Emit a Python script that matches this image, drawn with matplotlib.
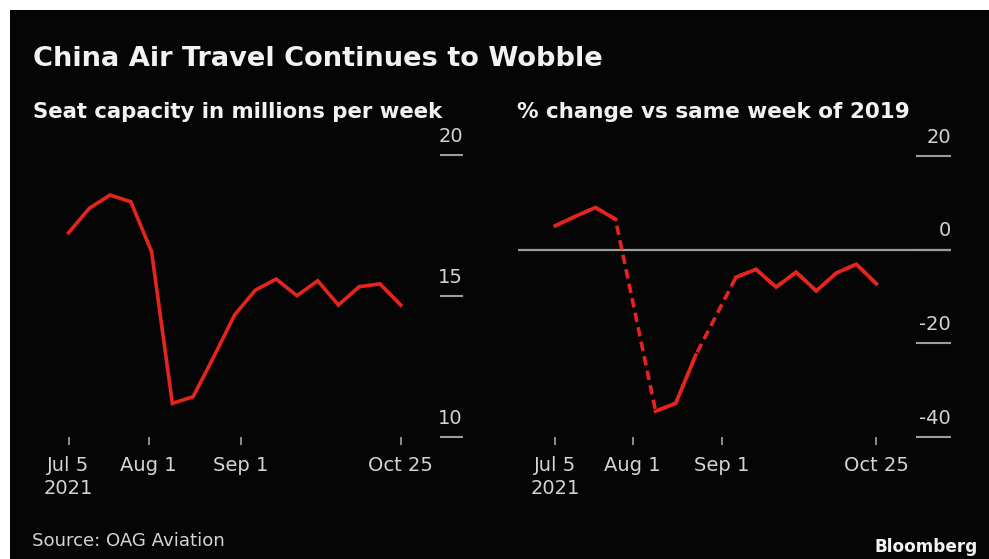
import numpy as np
import matplotlib
matplotlib.use("Agg")
import matplotlib.pyplot as plt
import matplotlib.transforms as mtransforms
from matplotlib.patches import Rectangle

# ─── 数据 (每周, 2021-07-05 起) ─────────────────────────
weeks = np.arange(np.datetime64("2021-07-05"), np.datetime64("2021-11-01"),
                  np.timedelta64(7, "D"))
seat_capacity = [17.24, 18.11, 18.58, 18.34, 16.57, 11.19, 11.43, 12.85, 14.33,
                 15.21, 15.60, 15.01, 15.54, 14.68, 15.33, 15.43, 14.68]
# % change vs 2019, nan = 缺失周 (用虚线连接)
pct_change = [5.1, 7.1, 9.0, 6.5, np.nan, -34.5, -32.8, -22.5, np.nan,
              -5.9, -4.2, -8.0, -4.8, -8.8, -5.0, -3.1, -7.3]

xtick_dates = np.array(["2021-07-05", "2021-08-01", "2021-09-01", "2021-10-25"],
                       dtype="datetime64[D]")
xtick_labels = ["Jul 5\n2021", "Aug 1", "Sep 1", "Oct 25"]
left_yticks = [10, 15, 20]
right_yticks = [-40, -20, 0, 20]

title = "China Air Travel Continues to Wobble"
left_sub = "Seat capacity in millions per week"
right_sub = "% change vs same week of 2019"
source = "Source: OAG Aviation"

# ─── 样式 ─────────────────────────────────────────────
W, H = 989, 559
RED = "#e5241d"
TXT = "#f2f2f2"
TICK_TXT = "#d4d4d4"
GRID = "#9c9c9c"
LW = 2.6

fig = plt.figure(figsize=(W / 100, H / 100), dpi=100)
fig.patch.set_facecolor("white")
fig.patches.append(Rectangle((10 / W, 0), 1 - 10 / W, 1 - 10 / H,
                             transform=fig.transFigure, facecolor="#050505",
                             edgecolor="none", zorder=-10))


def px_axes(x0, x1, y0, y1):
    """像素坐标 (左上原点) 建轴"""
    ax = fig.add_axes([x0 / W, 1 - y1 / H, (x1 - x0) / W, (y1 - y0) / H])
    ax.set_zorder(5)
    return ax


def style_axes(ax, yticks, tick_len_pt):
    ax.set_facecolor("none")
    for s in ax.spines.values():
        s.set_visible(False)
    ax.set_xticks(xtick_dates)
    ax.set_xticklabels(xtick_labels, fontsize=14, color=TICK_TXT,
                       linespacing=1.25)
    ax.tick_params(axis="x", direction="out", length=5.5, width=1.1,
                   color="#b0b0b0", pad=8)
    ax.yaxis.tick_right()
    ax.set_yticks(yticks)
    ax.tick_params(axis="y", direction="in", length=tick_len_pt, width=1.5,
                   color=GRID, labelright=False)
    trans = mtransforms.blended_transform_factory(ax.transAxes, ax.transData)
    for v in yticks:
        ax.annotate(f"{v:g}", xy=(1.0, v), xycoords=trans, xytext=(0, 9.5),
                    textcoords="offset points", ha="right", va="baseline",
                    fontsize=14, color=TICK_TXT)


day = np.timedelta64(1, "D")
start = weeks[0]

# 左图: 座位容量
ax1 = px_axes(30, 463, 155, 437)
ax1.plot(weeks, seat_capacity, color=RED, lw=LW, solid_joinstyle="miter")
ax1.set_ylim(10, 20)
ax1.set_xlim(start - 13.6 * day, start + 133.0 * day)
style_axes(ax1, left_yticks, 16.5)

# 右图: 同比 2019
ax2 = px_axes(518, 951, 156, 437)
pct = np.array(pct_change, dtype=float)
ok = ~np.isnan(pct)
ax2.plot(weeks[ok], pct[ok], color=RED, lw=LW, linestyle=(0, (2.6, 1.5)))
ax2.plot(weeks, pct, color=RED, lw=LW, solid_joinstyle="miter")
ax2.axhline(0, color=GRID, lw=1.6, zorder=0)
ax2.set_ylim(-40, 20)
ax2.set_xlim(start - 13.5 * day, start + 138.0 * day)
style_axes(ax2, right_yticks, 25)

# ─── 文字 ─────────────────────────────────────────────
def ftext(x, y, s, **kw):
    return fig.text(x / W, 1 - y / H, s, va="baseline", **kw)


renderer = fig.canvas.get_renderer()


def fit_width(t, target_px):
    w = t.get_window_extent(renderer=renderer).width
    t.set_fontsize(t.get_fontsize() * target_px / w)


t = ftext(33, 66, title, fontsize=18, fontweight="bold", color=TXT)
fit_width(t, 573)
t = ftext(33, 118, left_sub, fontsize=14, fontweight="bold", color=TXT)
fit_width(t, 412)
t = ftext(517, 118, right_sub, fontsize=14, fontweight="bold", color=TXT)
fit_width(t, 393)
t = ftext(32, 546, source, fontsize=12, color=TICK_TXT)
fit_width(t, 193)
t = ftext(978, 552, "Bloomberg", fontsize=12, fontweight="bold", color=TXT,
          ha="right")
fit_width(t, 103)

fig.savefig("out.png", dpi=100, facecolor=fig.get_facecolor())
